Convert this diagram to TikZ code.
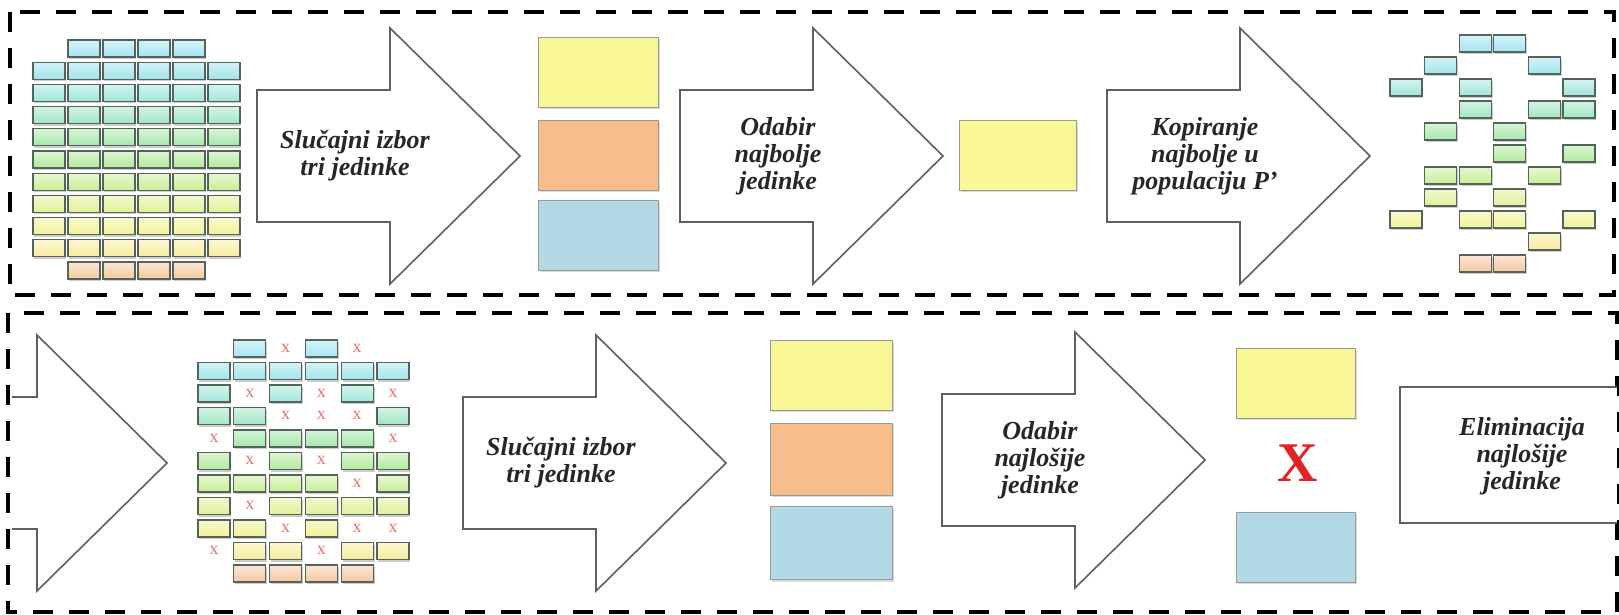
\documentclass[tikz,border=0pt]{standalone}
\usepackage{fontspec}
\setmainfont{Liberation Serif}
\usepackage{tikz}
\usetikzlibrary{shadows}
\definecolor{outline}{RGB}{95,95,95}
\definecolor{celledge}{RGB}{85,100,90}
\definecolor{fitbest}{RGB}{250,247,150}
\definecolor{fitmid}{RGB}{247,190,140}
\definecolor{fitlow}{RGB}{178,218,228}
\definecolor{killred}{RGB}{225,35,35}
\definecolor{pop0}{RGB}{165,228,242}
\definecolor{pop1}{RGB}{160,228,236}
\definecolor{pop2}{RGB}{160,230,218}
\definecolor{pop3}{RGB}{160,230,195}
\definecolor{pop4}{RGB}{165,232,170}
\definecolor{pop5}{RGB}{178,234,155}
\definecolor{pop6}{RGB}{200,238,150}
\definecolor{pop7}{RGB}{225,240,150}
\definecolor{pop8}{RGB}{242,242,150}
\definecolor{pop9}{RGB}{246,236,155}
\definecolor{pop10}{RGB}{246,200,160}
\tikzset{
  panel/.style={draw=black, line width=3.5pt, dash pattern=on 20pt off 16pt},
  blk/.style={draw=outline, line width=1.6pt, fill=white, line join=miter},
  lbl/.style={align=center, inner sep=0pt, text=black!85,
              font=\fontsize{26}{27}\selectfont\bfseries\itshape},
  cellb/.style={draw=celledge, line width=1.2pt,
                drop shadow={shadow xshift=1.4pt, shadow yshift=-2pt, opacity=0.4}},
  jedbox/.style={draw=black!40, line width=0.8pt, minimum width=120pt, minimum height=70pt,
                 inner sep=0pt, drop shadow={shadow xshift=1.5pt, shadow yshift=-2pt, opacity=0.3}},
  xmark/.style={text=killred!65, font=\fontsize{18}{18}\selectfont, inner sep=0pt},
  bigx/.style={text=killred, font=\fontsize{56}{56}\selectfont\bfseries, inner sep=0pt},
}
\newcommand{\jed}[3]{\path[cellb, top color=#3!45!white, bottom color=#3] (#1,#2) rectangle ++(32,17);}
\newcommand{\strel}[4]{\draw[blk] (#2,#3) ++(0,-66) -- ++(133,0) -- ++(0,-62) -- ++(130,128) -- ++(-130,128) -- ++(0,-62) -- ++(-133,0) -- cycle;
  \node[lbl] (#1) at (#2+98,#3) {#4};}

\begin{document}
\begin{tikzpicture}[x=1pt, y=-1pt]
\useasboundingbox (0,0) rectangle (1619,615);
\draw[panel] (10,12) rectangle (1614,295);
\draw[panel] (8,313) rectangle (1617,612);
% populacija P
\foreach \r in {1,...,9} \foreach \c in {0,...,5} \jed{33+35*\c}{40+22.2*\r}{pop\r};
\foreach \r in {0,10} \foreach \c in {1,...,4} \jed{33+35*\c}{40+22.2*\r}{pop\r};
\strel{pick3}{257}{156}{Slučajni izbor\\tri jedinke}
\node[jedbox, fill=fitbest] (a1) at (598,72) {};
\node[jedbox, fill=fitmid] (a2) at (598,155) {};
\node[jedbox, fill=fitlow] (a3) at (598,235) {};
\strel{best}{680}{156}{Odabir\\najbolje\\jedinke}
\node[jedbox, fill=fitbest, minimum width=117pt] (win) at (1018,155) {};
\strel{copy}{1107}{156}{Kopiranje\\najbolje u\\populaciju P'}
% populacija P'
\foreach \r/\cs in {0/{2,3}, 1/{1,4}, 2/{0,2,5}, 3/{2,4,5}, 4/{1,3}, 5/{3,5},
                    6/{1,2,4}, 7/{1,3}, 8/{0,2,3,5}, 9/{4}, 10/{2,3}}
  \foreach \c in \cs \jed{1390+34.6*\c}{35+22*\r}{pop\r};
% turnir za eliminaciju
\draw[blk] (12,397) -- (37,397) -- (37,335) -- (167,463) -- (37,591) -- (37,529) -- (12,529);
\foreach \r/\cs in {0/{1,3}, 1/{0,1,2,3,4,5}, 2/{0,2,4}, 3/{0,1,5}, 4/{1,2,3,4}, 5/{0,2,4,5},
                    6/{0,1,2,3,5}, 7/{0,2,3,4,5}, 8/{0,1,3}, 9/{1,2,4,5}, 10/{1,2,3,4}}
  \foreach \c in \cs \jed{198+35.8*\c}{340+22.5*\r}{pop\r};
\foreach \r/\cs in {0/{2,4}, 2/{1,3,5}, 3/{2,3,4}, 4/{0,5}, 5/{1,3}, 6/{4}, 7/{1}, 8/{2,4,5}, 9/{0,3}}
  \foreach \c in \cs \node[xmark] (gone\r-\c) at (214+35.8*\c,348+22.5*\r) {x};
\strel{pick3b}{463}{463}{Slučajni izbor\\tri jedinke}
\node[jedbox, fill=fitbest, minimum width=122pt] (b1) at (831,375) {};
\node[jedbox, fill=fitmid, minimum width=122pt, minimum height=72pt] (b2) at (831,459) {};
\node[jedbox, fill=fitlow, minimum width=122pt, minimum height=73pt] (b3) at (831,543) {};
\strel{worst}{942}{460}{Odabir\\najlošije\\jedinke}
\node[jedbox, fill=fitbest, minimum width=119pt] (c1) at (1296,383) {};
\node[bigx] (cut) at (1298,463) {X};
\node[jedbox, fill=fitlow, minimum width=119pt] (c3) at (1296,547) {};
\draw[blk] (1617,387) -- (1400,387) -- (1400,523) -- (1617,523);
\node[lbl] (elim) at (1522,456) {Eliminacija\\najlošije\\jedinke};
\end{tikzpicture}
\end{document}
